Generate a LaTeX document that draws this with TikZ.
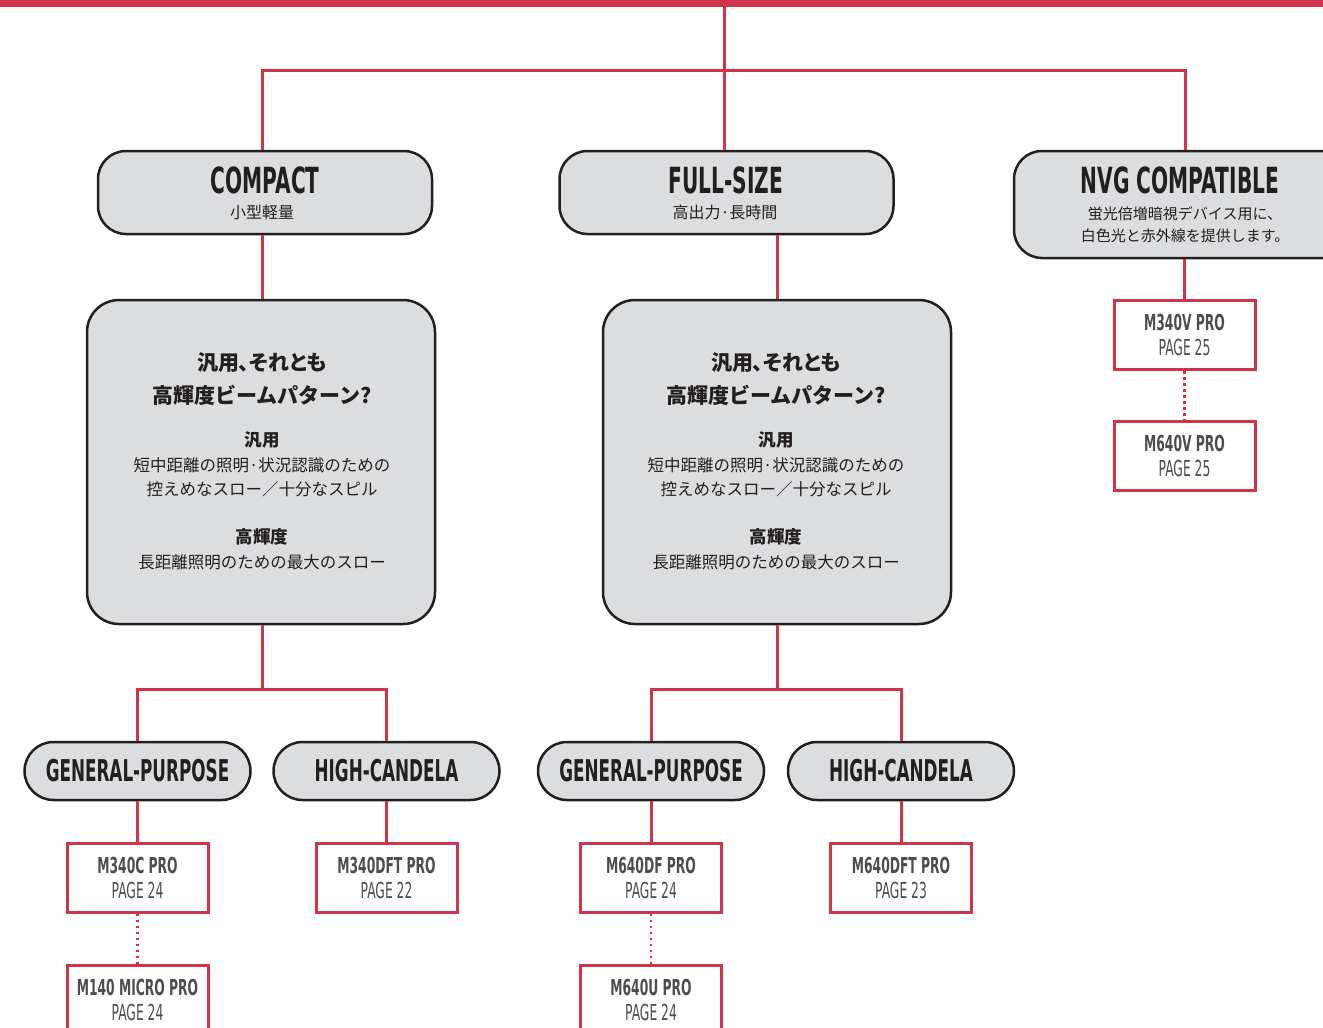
\documentclass[tikz,border=0pt]{standalone}
\usepackage{fontspec}
\usepackage{tikz}
\newfontfamily\condfont[FakeStretch=0.56]{DejaVu Sans}
\newfontfamily\jpfont{Noto Sans CJK JP}
\newfontfamily\jpheadfont[RawFeature=+palt]{Noto Sans CJK JP}
\definecolor{brandred}{HTML}{D1334A}
\definecolor{boxgray}{HTML}{DCDDDF}
\definecolor{inkblack}{HTML}{231F20}
\definecolor{modelgray}{HTML}{4D4D4F}

\begin{document}
\begin{tikzpicture}[x=1pt,y=-1pt,
   group box/.style={draw=inkblack,fill=boxgray,line width=2.5pt,rounded corners=28pt,
      minimum width=334pt,minimum height=83pt},
   question box/.style={draw=inkblack,fill=boxgray,line width=2.5pt,rounded corners=32pt,
      minimum width=348pt,minimum height=324pt},
   pill node/.style={draw=inkblack,fill=boxgray,line width=2.5pt,rounded corners=29pt,
      minimum width=226pt,minimum height=58pt,inner sep=0pt,
      font=\condfont\bfseries\fontsize{30}{30}\selectfont,text=inkblack},
   model node/.style={draw=brandred,fill=white,line width=3pt,
      minimum width=141pt,minimum height=69pt,inner sep=0pt,align=center,
      font=\condfont\fontsize{22}{25}\selectfont,text=modelgray},
   title text/.style={anchor=base,inner sep=0pt,text=inkblack,
      font=\condfont\bfseries\fontsize{36}{36}\selectfont},
   sub text/.style={anchor=base,inner sep=0pt,text=inkblack,
      font=\jpfont\fontsize{15}{15}\selectfont}]

\tikzstyle {link} = [draw=brandred, line width=3pt];
\tikzstyle {more} = [draw=brandred, line width=2.5pt, dash pattern=on 2.5pt off 3.5pt];

\useasboundingbox (0,0) rectangle (1323,1028);
\clip (0,0) rectangle (1323,1028);
\fill[brandred] (0,0) rectangle (1323,7);

\coordinate (top) at (724,6);
\coordinate (split) at (724,70);

% top row
\node[group box] (compact) at (265,192.5) {};
\node[group box] (fullsize) at (726.5,192.5) {};
\node[group box,minimum width=342pt,minimum height=107pt] (nvg) at (1185,204.5) {};

\node[title text] (compact title) at (265,193) {COMPACT};
\node[sub text,font=\jpfont\fontsize{16}{16}\selectfont] (compact sub) at (262,218) {小型軽量};
\node[title text] (fullsize title) at (726,193) {FULL-SIZE};
\node[sub text,font=\jpfont\fontsize{16}{16}\selectfont] (fullsize sub) at (725,218) {高出力·長時間};
\node[title text] (nvg title) at (1180,193) {NVG COMPATIBLE};
\node[sub text] (nvg sub1) at (1185,219) {蛍光倍増暗視デバイス用に、};
\node[sub text] (nvg sub2) at (1185,241) {白色光と赤外線を提供します。};

% beam question
\node[question box] (q1) at (261,462) {};
\node[question box] (q2) at (777,462) {};

\foreach \q/\x in {q1/262,q2/776}{
  \node[sub text,font=\jpheadfont\bfseries\fontsize{21}{21}\selectfont] (\q-h1) at (\x,370) {汎用、それとも};
  \node[sub text,font=\jpfont\bfseries\fontsize{21}{21}\selectfont] (\q-h2) at (\x,403) {高輝度ビームパターン?};
  \node[sub text,font=\jpfont\bfseries\fontsize{17.5}{17.5}\selectfont] (\q-g) at (\x,446.5) {汎用};
  \node[sub text,font=\jpfont\fontsize{16.5}{16.5}\selectfont] (\q-g1) at (\x,471) {短中距離の照明·状況認識のための};
  \node[sub text,font=\jpfont\fontsize{16.5}{16.5}\selectfont] (\q-g2) at (\x,495) {控えめなスロー／十分なスピル};
  \node[sub text,font=\jpfont\bfseries\fontsize{17.5}{17.5}\selectfont] (\q-c) at (\x,543.5) {高輝度};
  \node[sub text,font=\jpfont\fontsize{16.5}{16.5}\selectfont] (\q-c1) at (\x,568) {長距離照明のための最大のスロー};
}

% beam type
\node[pill node] (gp1) at (137.5,771) {GENERAL-PURPOSE};
\node[pill node] (hc1) at (386.5,771) {HIGH-CANDELA};
\node[pill node] (gp2) at (651,771) {GENERAL-PURPOSE};
\node[pill node] (hc2) at (901,771) {HIGH-CANDELA};

% lights
\node[model node] (m340c) at (137.5,877.5) {{\bfseries M340C PRO}\\PAGE 24};
\node[model node] (m140) at (137.5,999.5) {{\bfseries M140 MICRO PRO}\\PAGE 24};
\node[model node] (m340dft) at (386.5,877.5) {{\bfseries M340DFT PRO}\\PAGE 22};
\node[model node] (m640df) at (651,877.5) {{\bfseries M640DF PRO}\\PAGE 24};
\node[model node] (m640u) at (651,999.5) {{\bfseries M640U PRO}\\PAGE 24};
\node[model node] (m640dft) at (901,877.5) {{\bfseries M640DFT PRO}\\PAGE 23};
\node[model node] (m340v) at (1184.5,335) {{\bfseries M340V PRO}\\PAGE 25};
\node[model node] (m640v) at (1184.5,456) {{\bfseries M640V PRO}\\PAGE 25};

\coordinate (j1) at (262,689);
\coordinate (j2) at (q2.south |- j1);

\path[link] (top) -- (split);
\path[link] (compact.north -| j1) |- (split) -| (nvg.north);
\path[link] (split) -- (split |- fullsize.north);
\path[link] (q1.north -| j1) -- (j1 |- compact.south);
\path[link] (q2.north) -- (q2.north |- fullsize.south);
\path[link] (m340v.north) -- (m340v.north |- nvg.south);
\path[link] (q1.south -| j1) -- (j1);
\path[link] (gp1.north) |- (j1) -| (hc1.north);
\path[link] (q2.south) -- (j2);
\path[link] (gp2.north) |- (j2) -| (hc2.north);
\path[link] (gp1.south) -- (m340c.north);
\path[link] (hc1.south) -- (m340dft.north);
\path[link] (gp2.south) -- (m640df.north);
\path[link] (hc2.south) -- (m640dft.north);

\path[more] (m340c.south) -- (m140.north);
\path[more] (m640df.south) -- (m640u.north);
\path[more] (m340v.south) -- (m640v.north);

\end{tikzpicture}
\end{document}
